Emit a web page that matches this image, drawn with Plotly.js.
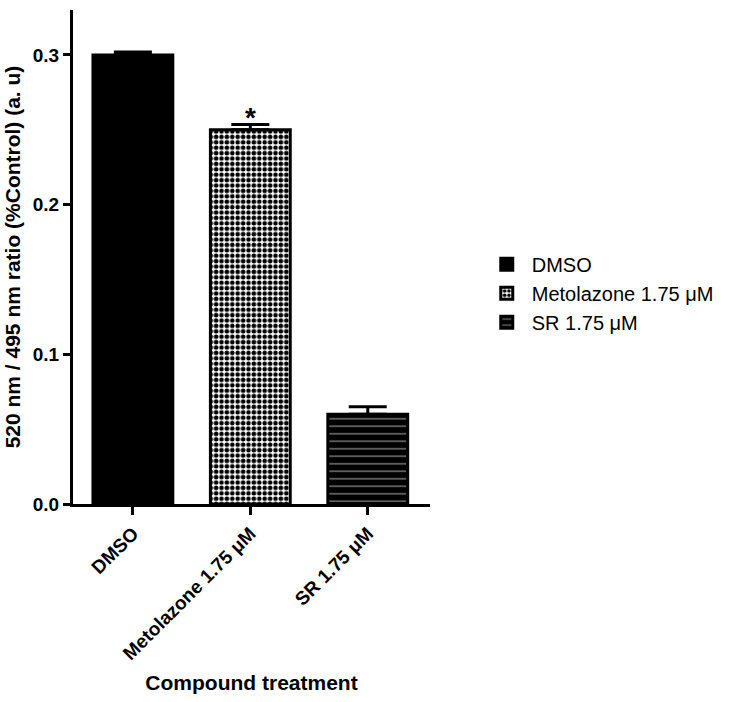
<!DOCTYPE html>
<html>
<head>
<meta charset="utf-8">
<script src="https://cdn.plot.ly/plotly-3.0.1.min.js"></script>
<style>html,body{margin:0;padding:0;background:#fff;}</style>
</head>
<body>
<div id="chart" style="width:729px;height:702px;"></div>
<script>
var categories = ["DMSO", "Metolazone 1.75 \u03bcM", "SR 1.75 \u03bcM"];
var values = [0.300, 0.250, 0.060];
var errors = [0.002, 0.0035, 0.005];
var significance = ["", "*", ""];

var FONT = "Arial, 'Liberation Sans', sans-serif";
var patterns = [
  {shape: "", fgcolor: "#000", bgcolor: "#000"},
  {shape: ".", fgcolor: "#000", bgcolor: "#fff", size: 5.4, solidity: 0.55, fillmode: "replace"},
  {shape: "-", fgcolor: "#9a9a9a", bgcolor: "#000", size: 7.5, solidity: 0.15, fillmode: "replace"}
];
var fills = ["#000", "#fff", "#000"];

var traces = categories.map(function (c, i) {
  return {
    type: "bar",
    name: c,
    x: [c],
    y: [values[i]],
    width: 0.68,
    marker: {color: fills[i], line: {color: "#000", width: 3}, pattern: patterns[i]},
    error_y: {type: "data", array: [errors[i]], arrayminus: [0], symmetric: false,
              color: "#000", thickness: 3, width: 19},
    hoverinfo: "none"
  };
});

var annotations = [];
categories.forEach(function (c, i) {
  if (significance[i]) {
    annotations.push({x: c, y: values[i] + errors[i], xref: "x", yref: "y",
      text: "<b>" + significance[i] + "</b>", showarrow: false, yanchor: "bottom", yshift: -10,
      font: {family: FONT, size: 28, color: "#000"}});
  }
});

var layout = {
  width: 729, height: 702,
  margin: {l: 73, r: 297, t: 10, b: 198},
  paper_bgcolor: "#fff", plot_bgcolor: "#fff",
  barmode: "overlay",
  font: {family: FONT, color: "#000"},
  showlegend: true,
  legend: {x: 1.145, y: 0.525, xanchor: "left", yanchor: "top",
           font: {family: FONT, size: 20, color: "#000"}, tracegroupgap: 0, itemwidth: 40},
  xaxis: {
    type: "category", range: [-0.51, 2.53],
    showline: true, linecolor: "#000", linewidth: 3,
    ticks: "outside", ticklen: 8, tickwidth: 3, tickcolor: "#000",
    tickangle: -45, showgrid: false, zeroline: false,
    tickfont: {family: FONT, size: 19, color: "#000", weight: "bold"},
    title: {text: "<b>Compound treatment</b>", font: {family: FONT, size: 21, color: "#000"}, standoff: 13}
  },
  yaxis: {
    range: [0, 0.33], dtick: 0.1, tickformat: ".1f",
    showline: true, linecolor: "#000", linewidth: 3,
    ticks: "outside", ticklen: 7, tickwidth: 3, tickcolor: "#000",
    showgrid: false, zeroline: false,
    tickfont: {family: FONT, size: 19, color: "#000", weight: "bold"},
    title: {text: "<b>520 nm / 495 nm ratio (%Control) (a. u)</b>", font: {family: FONT, size: 21, color: "#000"}, standoff: 7}
  },
  annotations: annotations
};

Plotly.newPlot("chart", traces, layout, {displayModeBar: false, staticPlot: true});
</script>
</body>
</html>
